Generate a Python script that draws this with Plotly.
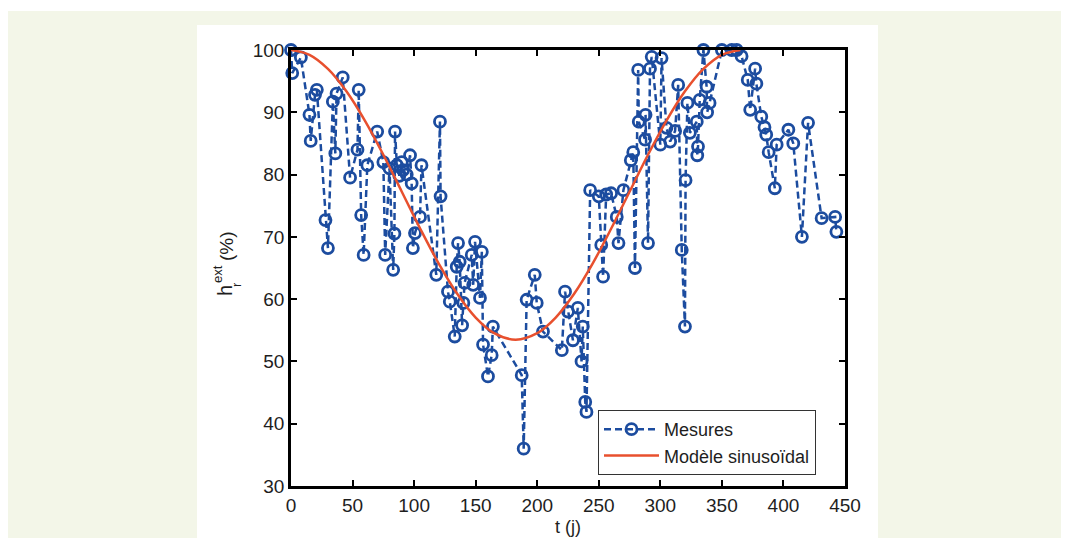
import plotly.graph_objects as go

# Mesures (t in days, h in %)
t_mes = [0, 1, 8, 15, 16, 19.5, 21, 28, 30, 34, 36, 37, 42, 48, 54, 55, 57, 59, 62, 70,
         75, 76.5, 80, 83, 84, 84.5, 86, 88, 90, 91, 94, 96.7, 98, 99, 100.7, 104.8, 106,
         118, 121, 121.5, 127.5, 129, 133, 134.6, 135.7, 137, 139, 140, 141, 146.8, 148,
         149.5, 153.5, 155, 156, 160, 163, 164, 187.4, 189, 191.4, 198, 199.6, 204.7,
         220, 222.6, 225, 229, 233, 236, 237, 239, 240, 243, 250, 252, 253.5, 256, 260,
         264.6, 266, 270, 276, 278, 279.4, 282, 282.5, 287.6, 288, 290, 291.6, 293, 300,
         301, 305, 308, 312, 314.5, 317.4, 320, 320.5, 322, 324, 329.6, 330, 330.6, 332,
         335, 337.6, 338, 340, 350, 358, 362, 366, 371, 373, 377, 378, 382, 384.6, 386,
         388, 393, 394.5, 404, 408, 415, 420, 431, 442, 443]
h_mes = [100, 96.3, 98.8, 89.6, 85.4, 92.8, 93.6, 72.7, 68.2, 91.7, 83.4, 93, 95.6, 79.5,
         84, 93.6, 73.5, 67.1, 81.5, 86.9,
         82, 67.1, 81, 64.7, 70.5, 86.9, 81.5, 79.8, 82, 80.7, 80, 83.1, 78.6, 68.2, 70.6,
         73.2, 81.5,
         63.9, 88.5, 76.5, 61.2, 59.6, 54, 65.2, 69, 66, 55.8, 59.4, 62.6, 67.1, 62.3,
         69.2, 60.2, 67.6, 52.7, 47.6, 51, 55.6, 47.8, 36, 59.9, 63.9, 59.4, 54.8,
         51.8, 61.2, 58, 53.4, 58.6, 50, 55.6, 43.5, 41.9, 77.5, 76.5, 68.7, 63.6, 76.8, 77,
         73.2, 69, 77.5, 82.3, 83.6, 65, 96.8, 88.5, 85.6, 89.6, 69, 97, 98.9, 84.8,
         98.7, 87.5, 85.3, 87, 94.4, 67.9, 55.6, 79.1, 91.5, 86.7, 88.5, 83.1, 84.5, 92,
         100, 94.1, 90, 91.5, 100, 100, 100, 99, 95.2, 90.4, 97, 94.6, 89.3, 87.6, 86.4,
         83.6, 77.8, 84.8, 87.2, 85, 70, 88.3, 73, 73.2, 70.8]

# Modèle sinusoïdal
t_mod = [0, 15, 30, 45, 60, 75, 90, 105, 120, 135, 150, 165, 182.5, 200, 215, 230, 245,
         260, 275, 290, 305, 320, 335, 350, 365]
h_mod = [100, 99.23, 96.97, 93.37, 88.67, 83.18, 77.25, 71.30, 65.71, 60.86, 57.04, 54.53,
         53.5, 54.53, 57.04, 60.86, 65.71, 71.30, 77.25, 83.18, 88.67, 93.37, 96.97, 99.23, 100]

x_ticks = [0, 50, 100, 150, 200, 250, 300, 350, 400, 450]
y_ticks = [30, 40, 50, 60, 70, 80, 90, 100]

BLUE = "#1c4c9f"
RED = "#e8502e"
TXT = "#1e1e1e"
FONT = "Liberation Sans, Arial, sans-serif"
FS = 19

# page body has an 8px margin: the figure starts at (8, 8) of the window
OFF = 8
W, H = 1069 - 2 * OFF, 546 - 2 * OFF
# plot area in window pixels
L, R, T, B = 291, 845, 50, 486

def fx(px):
    return (px - L) / (R - L)

def fy(py):
    return (B - py) / (B - T)

fig = go.Figure()
fig.add_trace(go.Scatter(
    x=t_mes, y=h_mes, mode="lines+markers", name="Mesures",
    line=dict(color=BLUE, width=2.5, dash="7px,4px"),
    marker=dict(symbol="circle-open", size=11, color=BLUE, line=dict(width=2.8, color=BLUE)),
    cliponaxis=False,
))
fig.add_trace(go.Scatter(
    x=t_mod, y=h_mod, mode="lines", name="Modèle sinusoïdal",
    line=dict(color=RED, width=2.5, shape="spline"),
))

shapes = [
    dict(type="rect", xref="paper", yref="paper", layer="below",
         x0=fx(8), x1=fx(1062), y0=fy(560), y1=fy(11),
         fillcolor="#f3f6e8", line=dict(width=0)),
    dict(type="rect", xref="paper", yref="paper", layer="below",
         x0=fx(197), x1=fx(878), y0=fy(543), y1=fy(25),
         fillcolor="white", line=dict(width=0)),
]

ann = []
def add_rot(text, px, py, size):
    ann.append(dict(text=text, x=fx(px), y=fy(py), xref="paper", yref="paper",
                    showarrow=False, textangle=-90, xanchor="center", yanchor="middle",
                    font=dict(family=FONT, size=size, color=TXT)))

add_rot("h", 225, 291, 20)
add_rot("ext", 217, 274, 13)
add_rot("r", 236, 285, 13)
add_rot("(%)", 226, 246, 19)

ann.append(dict(text="t (j)", x=0.5, y=fy(527), xref="paper", yref="paper",
                showarrow=False, xanchor="center", yanchor="middle",
                font=dict(family=FONT, size=18, color=TXT)))

fig.update_layout(
    width=W, height=H, autosize=False,
    margin=dict(l=L - OFF, r=(W + OFF) - R, t=T - OFF, b=(H + OFF) - B, pad=0),
    paper_bgcolor="white", plot_bgcolor="white",
    shapes=shapes, annotations=ann,
    showlegend=True,
    legend=dict(x=fx(598), y=fy(475), xanchor="left", yanchor="bottom",
                bgcolor="white", bordercolor="#333", borderwidth=1,
                font=dict(family=FONT, size=FS - 1, color=TXT),
                itemwidth=55, tracegroupgap=0),
    font=dict(family=FONT, size=FS, color=TXT),
)
axis_common = dict(showgrid=False, zeroline=False, showline=True, linecolor="black", linewidth=2.5,
                   mirror="allticks", ticks="inside", ticklen=6, tickwidth=2, tickcolor="black",
                   tickfont=dict(family=FONT, size=FS, color=TXT))
fig.update_xaxes(range=[0, 450], tickvals=x_ticks, ticktext=[str(v) for v in x_ticks], **axis_common)
fig.update_yaxes(range=[30, 100], tickvals=y_ticks, ticktext=[str(v) for v in y_ticks], **axis_common)

fig.write_html("out.html")
